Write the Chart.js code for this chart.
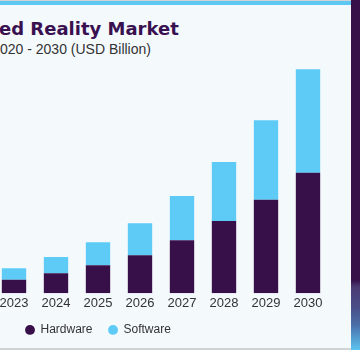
<!DOCTYPE html>
<html>
<head>
<meta charset="utf-8">
<script src="https://cdn.jsdelivr.net/npm/chart.js@4.4.1/dist/chart.umd.min.js"></script>
<style>
  html, body { margin: 0; padding: 0; }
  body { width: 360px; height: 350px; overflow: hidden; position: relative; background: #F4F9FC; }
  #topline { position: absolute; left: 0; top: 0; width: 351px; height: 1px; background: #cfd3d6; }
  #topbar { position: absolute; left: 0; top: 1px; width: 351px; height: 4px; background: #5EC8F2; }
  #side { position: absolute; left: 351px; top: 0; width: 9px; height: 350px;
    background: linear-gradient(to bottom, #37104A 0%, #37104A 80%, #4b3a72 82%, #4a4f88 88%, #4a70aa 93%, #5cc4f0 100%); }
  #bottomline { position: absolute; left: 0; top: 348px; width: 351px; height: 2px; background: #cfd3d6; }
  #title { position: absolute; left: -1px; top: 20px; font: bold 18px/18px "DejaVu Sans", sans-serif; color: #3A1150; white-space: nowrap; }
  #subtitle { position: absolute; left: 0px; top: 42px; font: 14px/14px "Liberation Sans", Arial, sans-serif; color: #333333; white-space: nowrap; }
  #c { position: absolute; left: -7px; top: 0; }
</style>
</head>
<body>
<div id="topline"></div>
<div id="topbar"></div>
<div id="side"></div>
<div id="bottomline"></div>
<div id="title">ed Reality Market</div>
<div id="subtitle">020 - 2030 (USD Billion)</div>
<canvas id="c" width="336" height="350"></canvas>
<script>
const years = ['2023', '2024', '2025', '2026', '2027', '2028', '2029', '2030'];
const hardware = [1.36, 2.00, 2.80, 3.80, 5.30, 7.23, 9.36, 12.06];
const software = [1.14, 1.63, 2.30, 3.20, 4.43, 5.90, 7.94, 10.34];
const seriesNames = ['Hardware', 'Software'];

const legendPlace = {
  id: 'legendPlace',
  afterLayout(chart, args, opts) {
    const lg = chart.legend;
    if (!lg) return;
    lg.left += opts.dx; lg.right += opts.dx;
    lg.top += opts.dy; lg.bottom += opts.dy;
  }
};

new Chart(document.getElementById('c'), {
  type: 'bar',
  data: {
    labels: years,
    datasets: [
      { label: seriesNames[0], data: hardware, backgroundColor: '#37104A', borderWidth: 0 },
      { label: seriesNames[1], data: software, backgroundColor: '#5ECBF7', borderWidth: 0 }
    ]
  },
  options: {
    responsive: false,
    animation: false,
    events: [],
    layout: { padding: { top: 53.3, bottom: -0.9, left: 0, right: 0 } },
    datasets: { bar: { categoryPercentage: 1, barPercentage: 0.58 } },
    scales: {
      x: {
        stacked: true,
        grid: { display: false, drawTicks: false },
        border: { display: false },
        ticks: { padding: 2, color: '#333333', font: { family: '"Liberation Sans", Arial, sans-serif', size: 13 } }
      },
      y: { stacked: true, display: false, min: 0, max: 24 }
    },
    plugins: {
      tooltip: { enabled: false },
      legend: {
        position: 'bottom',
        align: 'start',
        labels: {
          usePointStyle: true,
          pointStyle: 'circle',
          boxWidth: 9,
          boxHeight: 7,
          padding: 16,
          color: '#333333',
          font: { family: '"Liberation Sans", Arial, sans-serif', size: 12 }
        }
      },
      legendPlace: { dx: 16.5, dy: -5 }
    }
  },
  plugins: [legendPlace]
});
</script>
</body>
</html>
